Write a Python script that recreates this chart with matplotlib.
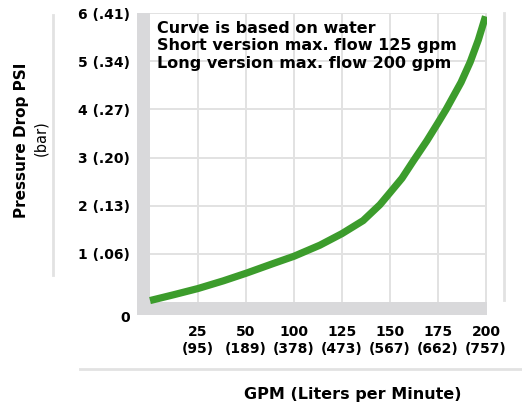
import matplotlib
matplotlib.use('Agg')
import matplotlib.pyplot as plt
from matplotlib.lines import Line2D

# flow positions are tick slots (the chart spaces its labels evenly)
flow_pos = [0, 0.49, 1.0, 1.53, 2.01, 2.57, 3.0, 3.54, 4.0, 4.44, 4.79,
            5.0, 5.25, 5.48, 5.77, 6.0, 6.17, 6.48, 6.67, 6.84, 6.99]
pressure = [0.03, 0.15, 0.28, 0.44, 0.6, 0.8, 0.95, 1.18, 1.42, 1.69, 2.02,
            2.27, 2.57, 2.92, 3.35, 3.72, 4.0, 4.56, 4.98, 5.44, 5.93]

x_ticks = [1, 2, 3, 4, 5, 6, 7]
x_labels = ['25\n(95)', '50\n(189)', '100\n(378)', '125\n(473)',
            '150\n(567)', '175\n(662)', '200\n(757)']
y_ticks = [1, 2, 3, 4, 5, 6]
y_labels = ['1 (.06)', '2 (.13)', '3 (.20)', '4 (.27)', '5 (.34)', '6 (.41)']
notes = ['Curve is based on water',
         'Short version max. flow 125 gpm',
         'Long version max. flow 200 gpm']

GREEN = '#3c9c2c'
GRAY = '#d9d9db'
GRID = '#e2e2e2'

fig = plt.figure(figsize=(5.22, 4.04), dpi=100)
ax = fig.add_axes([137 / 522, 89 / 404, 350 / 522, 302 / 404])
x0, x1 = -13 / 48, 337 / 48
y0, y1 = -13 / 48.2, 6.0
ax.set_xlim(x0, x1)
ax.set_ylim(y0, y1)

# grey frame bars and grid
ax.axvspan(x0, 0, color=GRAY, lw=0, zorder=1)
ax.axhspan(y0, 0, color=GRAY, lw=0, zorder=1)
ax.vlines(x_ticks, 0, y1, color=GRID, lw=1.4, zorder=0)
ax.hlines(y_ticks, 0, x1, color=GRID, lw=1.4, zorder=0)

ax.plot(flow_pos, pressure, color=GREEN, lw=5.2, solid_capstyle='butt',
        solid_joinstyle='round', zorder=3)

for s in ax.spines.values():
    s.set_visible(False)
ax.tick_params(length=0)
ax.set_xticks(x_ticks)
ax.set_xticklabels(x_labels, fontsize=10, fontweight='bold', linespacing=1.3)
ax.set_yticks(y_ticks)
ax.set_yticklabels(y_labels, fontsize=10, fontweight='bold')
ax.tick_params(axis='x', pad=7)
ax.tick_params(axis='y', pad=5)
ax.text(-0.02, -0.33, '0', transform=ax.get_yaxis_transform(), ha='right',
        va='center', fontsize=10, fontweight='bold', clip_on=False)

ax.text(0.057, 0.975, '\n'.join(notes), transform=ax.transAxes, ha='left',
        va='top', fontsize=11.5, fontweight='bold', linespacing=1.22, zorder=4)

# labels outside the axes
fig.text(22 / 522, 1 - 140 / 404, 'Pressure Drop PSI', rotation=90,
         ha='center', va='center', fontsize=11, fontweight='bold')
fig.text(41 / 522, 1 - 138 / 404, '(bar)', rotation=90, ha='center',
         va='center', fontsize=10.5)
fig.text(353 / 522, 1 - 395 / 404, 'GPM (Liters per Minute)', ha='center',
         va='center', fontsize=11.5, fontweight='bold')

# light rules framing the chart
fig.add_artist(Line2D([53 / 522, 53 / 522], [1 - 15 / 404, 1 - 275 / 404],
                      color=GRID, lw=2))
fig.add_artist(Line2D([80 / 522, 1.0], [1 - 369 / 404, 1 - 369 / 404],
                      color=GRID, lw=2))
fig.add_artist(Line2D([504 / 522, 504 / 522], [1 - 13 / 404, 1 - 300 / 404],
                      color=GRID, lw=2))

fig.savefig('out.png', dpi=100)
